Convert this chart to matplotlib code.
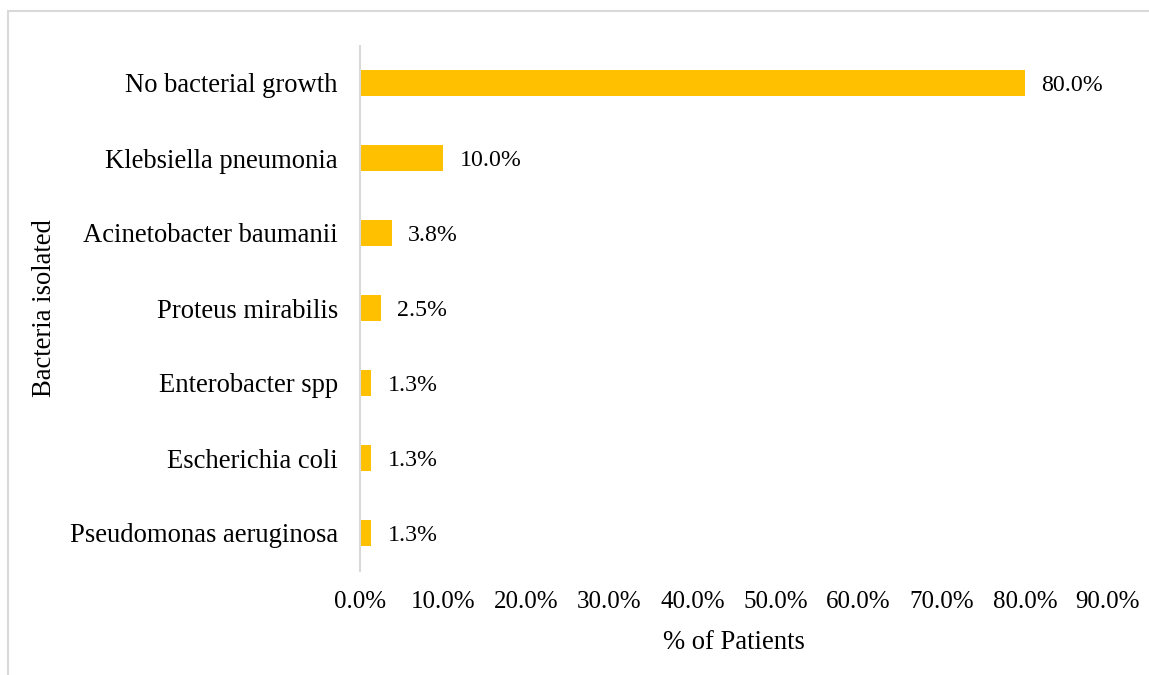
import matplotlib.pyplot as plt
from matplotlib.patches import Rectangle
from matplotlib.ticker import FuncFormatter

plt.rcParams['font.family'] = ['Liberation Serif', 'DejaVu Serif']

bacteria = [
    "No bacterial growth",
    "Klebsiella pneumonia",
    "Acinetobacter baumanii",
    "Proteus mirabilis",
    "Enterobacter spp",
    "Escherichia coli",
    "Pseudomonas aeruginosa",
]
patients_pct = [80.0, 10.0, 3.8, 2.5, 1.3, 1.3, 1.3]
x_ticks = [0, 10, 20, 30, 40, 50, 60, 70, 80, 90]

BAR_COLOR = '#FFC000'
LINE_GRAY = '#D9D9D9'

fig = plt.figure(figsize=(11.49, 6.75), dpi=100)
ax = fig.add_axes([360 / 1149, 1 - 570.5 / 675, (1108 - 360) / 1149, 525 / 675])

# thin frame around the chart area
fig.patches.append(Rectangle((8 / 1149, -0.01), 1.05, 1 - 11 / 675 + 0.01,
                             transform=fig.transFigure, fill=False,
                             edgecolor=LINE_GRAY, linewidth=1.5))

# first category at the top
ypos = list(range(len(bacteria)))[::-1]
ax.barh(ypos, patients_pct, height=0.35, color=BAR_COLOR)

for y, v in zip(ypos, patients_pct):
    ax.text(v + 2.0, y, f"{v:.1f}%", va='center_baseline', ha='left',
            fontsize=17.2)

ax.set_xlim(0, 90)
ax.set_ylim(-0.5, len(bacteria) - 0.5)
ax.set_xticks(x_ticks)
ax.xaxis.set_major_formatter(FuncFormatter(lambda v, _: f"{v:.1f}%"))
ax.set_yticks(ypos)
ax.set_yticklabels(bacteria)

ax.tick_params(axis='both', length=0)
ax.tick_params(axis='x', pad=15, labelsize=18)
ax.tick_params(axis='y', pad=16, labelsize=19.2)

for side in ['top', 'right', 'bottom']:
    ax.spines[side].set_visible(False)
ax.spines['left'].set_color(LINE_GRAY)
ax.spines['left'].set_linewidth(1.5)

ax.set_xlabel("% of Patients", fontsize=19.2, labelpad=12)
ax.set_ylabel("Bacteria isolated", fontsize=19.2, labelpad=9)

fig.savefig('out.png', dpi=100)
